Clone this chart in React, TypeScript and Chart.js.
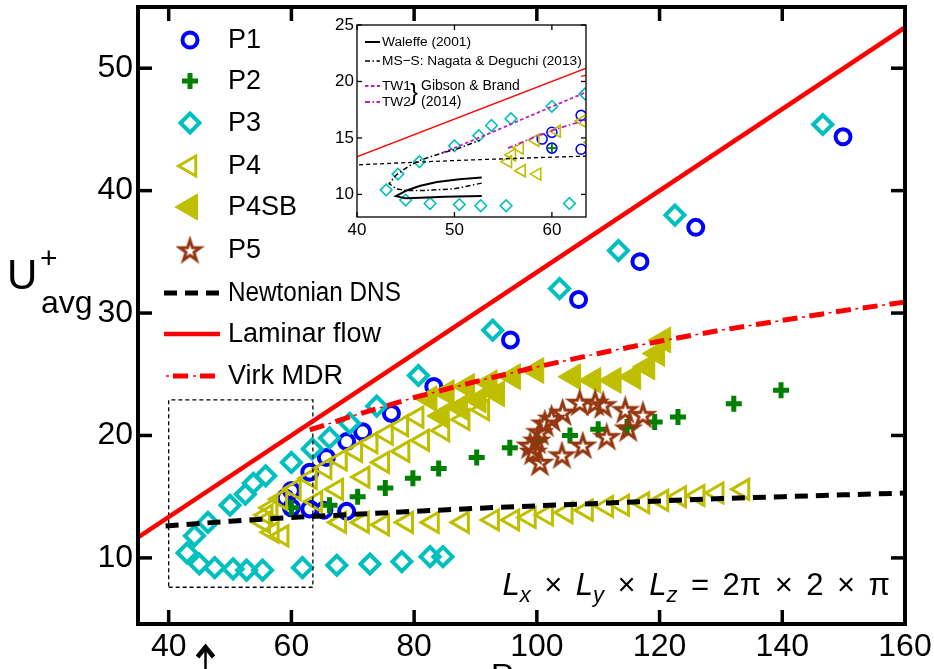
import React, { useEffect, useRef } from 'react';
import { Chart, registerables } from 'chart.js';
import { drawPoint } from 'chart.js/helpers';

Chart.register(...registerables);

const FONT = '"Liberation Sans", Arial, Helvetica, sans-serif';

// ---------- axes ----------
const xTicks = [40, 60, 80, 100, 120, 140, 160];
const yTicks = [10, 20, 30, 40, 50];
const insetXTicks = [40, 50, 60];
const insetYTicks = [10, 15, 20, 25];

// ---------- solutions (Re_tau, U+avg) ----------
const p1Re = [59.0, 60.0, 63.0, 65.7, 69.0, 71.6, 76.3, 83.2, 95.7, 106.8, 116.8, 125.9, 149.9, 60.0, 63.0, 65.3, 69.0];
const p1U = [14.9, 15.5, 17.0, 18.2, 19.5, 20.3, 21.8, 24.0, 27.8, 31.1, 34.2, 37.0, 44.4, 14.1, 14.0, 13.9, 13.8];

const p2Re = [60.0, 66.2, 70.8, 75.3, 79.8, 84.0, 90.2, 95.6, 100.0, 105.4, 110.0, 114.7, 119.2, 123.0, 132.1, 139.8];
const p2U = [14.1, 14.3, 15.0, 15.7, 16.5, 17.3, 18.2, 19.0, 19.6, 20.0, 20.5, 20.7, 21.1, 21.5, 22.6, 23.7];

const p3Re = [43.0, 44.2, 46.4, 50.0, 52.5, 53.8, 55.8, 60.0, 63.4, 66.2, 69.5, 73.9, 80.7, 92.8, 103.7, 113.3, 122.5, 146.6,
  45.0, 47.5, 50.5, 52.7, 55.3, 61.8, 67.4, 72.8, 78.0, 82.6, 84.7];
const p3U = [10.4, 11.8, 12.9, 14.3, 15.2, 16.1, 16.7, 17.8, 18.9, 19.8, 21.0, 22.4, 24.9, 28.6, 32.0, 35.1, 38.0, 45.4,
  9.5, 9.2, 9.1, 9.0, 9.0, 9.2, 9.4, 9.5, 9.7, 10.1, 10.1];

const p4Re = [55.5, 55.9, 56.7, 56.9, 58.5, 58.3, 60.5, 63.1,
  65.5, 68.0, 70.5, 73.0, 75.5, 78.0, 80.5,
  64.0, 67.4, 71.7, 74.9, 78.2, 81.4, 84.7, 88.0, 91.2,
  67.9, 71.6, 74.9, 78.8, 83.0, 87.9, 92.8, 96.1, 98.8, 101.6, 104.8, 108.1, 111.4, 114.0, 117.3, 120.4, 123.3, 126.3, 129.4, 133.6];
const p4U = [12.9, 13.5, 14.1, 12.1, 11.8, 14.8, 15.6, 16.5,
  17.3, 18.0, 18.7, 19.4, 20.1, 20.8, 21.5,
  14.6, 15.6, 16.6, 17.8, 18.7, 19.6, 20.4, 21.3, 22.1,
  12.9, 12.9, 12.7, 12.9, 12.9, 12.9, 13.1, 13.1, 13.3, 13.5, 13.7, 13.9, 14.2, 14.3, 14.5, 14.7, 15.0, 15.1, 15.3, 15.6];

const p4sbRe = [82.5, 85.3, 88.6, 92.3, 96.1, 99.9, 84.5, 87.5, 90.5, 93.5, 105.9, 109.2, 112.5, 115.7, 118.0, 119.6, 120.6];
const p4sbU = [23.0, 23.5, 24.0, 24.3, 24.8, 25.3, 21.6, 22.3, 22.9, 23.4, 24.8, 24.5, 24.5, 24.8, 25.6, 26.7, 27.8];

const p5Re = [100.5, 99.4, 98.9, 100.0, 100.5, 101.3, 102.4, 104.2, 107.0, 109.5, 110.8, 114.4, 117.3, 114.9, 111.4, 107.5, 104.1];
const p5U = [17.8, 18.7, 19.2, 19.6, 20.3, 21.0, 21.4, 21.9, 22.7, 22.7, 22.5, 22.1, 21.7, 20.6, 19.9, 19.2, 18.4];

// ---------- reference curves ----------
const laminarRe = [35, 160];
const laminarU = [11.67, 53.33];
const newtonRe = [39.5, 50, 60, 70, 80, 90, 100, 110, 120, 130, 140, 150, 160];
const newtonU = [12.6, 13.0, 13.3, 13.55, 13.8, 14.05, 14.25, 14.45, 14.65, 14.85, 15.0, 15.15, 15.3];
const virkRe = [63, 70, 80, 90, 100, 110, 120, 130, 140, 150, 160];
const virkU = [20.45, 21.6, 23.1, 24.4, 25.6, 26.7, 27.7, 28.6, 29.4, 30.2, 30.9];
const boxRe = [40, 63.5, 63.5, 40, 40];
const boxU = [7.6, 7.6, 22.9, 22.9, 7.6];

// ---------- inset: lower-branch solutions ----------
const waleffeRe = [52.8, 49.0, 46.5, 45.0, 44.0, 45.1, 46.4, 48.2, 50.5, 52.8];
const waleffeU = [9.85, 9.8, 9.7, 9.65, 9.85, 10.35, 10.75, 11.1, 11.35, 11.5];
const mssRe = [52.8, 50.0, 47.0, 45.0, 44.0, 43.3, 44.0, 45.3, 46.4, 48.5, 50.5, 52.6];
const mssU = [11.0, 10.5, 10.35, 10.35, 10.5, 10.95, 11.7, 12.5, 13.0, 13.6, 14.1, 14.8];
const tw1Re = [48.8, 50.5, 53.3, 56.0, 59.8, 63.5];
const tw1U = [13.7, 14.3, 15.3, 16.3, 17.7, 19.05];
const tw2Re = [55.5, 58.0, 60.5, 63.5];
const tw2U = [14.1, 15.0, 15.8, 16.6];

const BLUE = '#0000FF';
const GREEN = '#008000';
const CYAN = '#00BFBF';
const OLIVE = '#BFBF00';
const BROWN = '#94360F';
const RED = '#FF0000';
const MAGENTA = '#C020C0';
const NONE = 'rgba(0,0,0,0)';

const pts = (xs: number[], ys: number[]) => xs.map((x, i) => ({ x, y: ys[i] }));

function makeStar(R: number, color: string, lw: number) {
  const size = Math.ceil(2 * R + lw + 4);
  const c = document.createElement('canvas');
  c.width = size;
  c.height = size;
  const g = c.getContext('2d')!;
  const cx = size / 2;
  const cy = size / 2 + R * 0.1;
  g.beginPath();
  for (let i = 0; i < 10; i++) {
    const rr = i % 2 === 0 ? R : R * 0.382;
    const a = -Math.PI / 2 + (i * Math.PI) / 5;
    const px = cx + rr * Math.cos(a);
    const py = cy + rr * Math.sin(a);
    if (i === 0) g.moveTo(px, py);
    else g.lineTo(px, py);
  }
  g.closePath();
  g.strokeStyle = color;
  g.lineWidth = lw;
  g.lineJoin = 'miter';
  g.stroke();
  return c;
}

type Mk = { style: any; r: number; bw: number; color: string; fill: string; rot?: number };

function markerSet(label: string, xs: number[], ys: number[], m: Mk, order: number) {
  return {
    label,
    data: pts(xs, ys),
    showLine: false,
    pointStyle: m.style,
    pointRotation: m.rot ?? 0,
    pointRadius: m.r,
    pointBorderWidth: m.bw,
    pointBorderColor: m.color,
    pointBackgroundColor: m.fill,
    borderColor: m.color,
    backgroundColor: m.fill,
    order,
  };
}

function lineSet(label: string, xs: number[], ys: number[], color: string, width: number, dash: number[], order: number, dashOffset = 0) {
  return {
    label,
    data: pts(xs, ys),
    showLine: true,
    borderColor: color,
    backgroundColor: color,
    borderWidth: width,
    borderDash: dash,
    borderDashOffset: dashOffset,
    pointRadius: 0,
    tension: 0,
    fill: false,
    order,
  };
}

function markerOf(ds: any, x: number, y: number, ctx: CanvasRenderingContext2D) {
  ctx.save();
  ctx.fillStyle = ds.pointBackgroundColor;
  ctx.strokeStyle = ds.pointBorderColor;
  ctx.lineWidth = ds.pointBorderWidth;
  drawPoint(ctx, { pointStyle: ds.pointStyle, rotation: ds.pointRotation, radius: ds.pointRadius, borderWidth: ds.pointBorderWidth } as any, x, y);
  ctx.restore();
}

function seg(ctx: CanvasRenderingContext2D, x1: number, y1: number, x2: number, y2: number) {
  ctx.beginPath();
  ctx.moveTo(x1, y1);
  ctx.lineTo(x2, y2);
  ctx.stroke();
}

// keep the plot box where the layout padding puts it
const noEdgePadding = (s: any) => {
  s.paddingTop = 0;
  s.paddingBottom = 0;
  s.paddingLeft = 0;
  s.paddingRight = 0;
};

const mainDecor = {
  id: 'mainDecor',
  beforeDraw(chart: any) {
    const { ctx, width, height } = chart;
    ctx.save();
    ctx.fillStyle = '#fff';
    ctx.fillRect(0, 0, width, height);
    ctx.restore();
  },
  afterDraw(chart: any) {
    const { ctx, chartArea: a, scales } = chart;
    const xs = scales.x;
    const ys = scales.y;
    ctx.save();
    ctx.strokeStyle = '#000';
    ctx.lineWidth = 3.5;
    for (const v of xTicks) {
      const px = xs.getPixelForValue(v);
      seg(ctx, px, a.bottom, px, a.bottom - 14);
      seg(ctx, px, a.top, px, a.top + 14);
    }
    for (const v of yTicks) {
      const py = ys.getPixelForValue(v);
      seg(ctx, a.left, py, a.left + 14, py);
      seg(ctx, a.right, py, a.right - 14, py);
    }
    ctx.lineWidth = 4;
    ctx.strokeRect(a.left, a.top, a.right - a.left, a.bottom - a.top);

    // legend
    const byLabel = (l: string) => chart.data.datasets.find((d: any) => d.label === l);
    const rows: [string, number][] = [['P1', 40], ['P2', 81], ['P3', 123], ['P4', 166], ['P4SB', 207], ['P5', 250]];
    ctx.font = `27px ${FONT}`;
    ctx.fillStyle = '#000';
    ctx.textBaseline = 'middle';
    ctx.textAlign = 'left';
    for (const [l, y] of rows) {
      markerOf(byLabel(l), 190, y, ctx);
      ctx.fillStyle = '#000';
      ctx.fillText(l, 228, y + 1);
    }
    const lineRows: [string, number][] = [['Newtonian DNS', 293], ['Laminar flow', 334], ['Virk MDR', 376]];
    for (const [l, y] of lineRows) {
      ctx.save();
      if (l === 'Newtonian DNS') {
        ctx.strokeStyle = '#000'; ctx.lineWidth = 5; ctx.setLineDash([13, 8]);
        seg(ctx, 164, y, 219, y);
      } else if (l === 'Laminar flow') {
        ctx.strokeStyle = RED; ctx.lineWidth = 4.5;
        seg(ctx, 164, y, 220, y);
      } else {
        ctx.strokeStyle = RED; ctx.lineWidth = 5; ctx.setLineDash([15, 12]); ctx.lineDashOffset = -9;
        seg(ctx, 164, y, 220, y);
        ctx.lineWidth = 1.5; ctx.setLineDash([3, 24]); ctx.lineDashOffset = 27 - 2;
        seg(ctx, 164, y, 220, y);
      }
      ctx.restore();
      ctx.fillStyle = '#000';
      if (l === 'Newtonian DNS') {
        // slightly condensed, as in the figure
        ctx.save();
        ctx.translate(228, 0);
        ctx.scale(0.9, 1);
        ctx.fillText(l, 0, y + 1);
        ctx.restore();
      } else {
        ctx.fillText(l, 228, y + 1);
      }
    }

    // y-axis title U+avg
    ctx.textBaseline = 'alphabetic';
    ctx.font = `42px ${FONT}`;
    ctx.fillText('U', 7, 289);
    ctx.font = `30px ${FONT}`;
    ctx.fillText('+', 40, 268);
    ctx.font = `32px ${FONT}`;
    ctx.fillText('avg', 41, 313);

    // x-axis title Re_tau (mostly below the visible area)
    ctx.font = `32px ${FONT}`;
    ctx.fillText('Re', 491, 686);
    ctx.font = `22px ${FONT}`;
    ctx.fillText('τ', 527, 694);

    // domain size annotation, math-style spacing around the operators
    const big = `${31}px ${FONT}`;
    const it = `italic ${31}px ${FONT}`;
    const sub = `italic 22px ${FONT}`;
    const gap = 13.5;
    const parts: { t: string; f: string; dy: number; pad: number }[] = [
      { t: 'L', f: it, dy: 0, pad: 0 },
      { t: 'x', f: sub, dy: 7, pad: gap },
      { t: '×', f: big, dy: 0, pad: gap },
      { t: 'L', f: it, dy: 0, pad: 0 },
      { t: 'y', f: sub, dy: 7, pad: gap },
      { t: '×', f: big, dy: 0, pad: gap },
      { t: 'L', f: it, dy: 0, pad: 0 },
      { t: 'z', f: sub, dy: 7, pad: gap },
      { t: '=', f: big, dy: 0, pad: gap },
      { t: '2π', f: big, dy: 0, pad: gap },
      { t: '×', f: big, dy: 0, pad: gap },
      { t: '2', f: big, dy: 0, pad: gap },
      { t: '×', f: big, dy: 0, pad: gap },
      { t: 'π', f: big, dy: 0, pad: 0 },
    ];
    let total = 0;
    for (const p of parts) { ctx.font = p.f; total += ctx.measureText(p.t).width + p.pad; }
    let cx = 890 - total;
    for (const p of parts) {
      ctx.font = p.f;
      ctx.fillText(p.t, cx, 595 + p.dy);
      cx += ctx.measureText(p.t).width + p.pad;
    }

    // arrow marking the lowest Re_tau
    const ax = xs.getPixelForValue(46);
    ctx.strokeStyle = '#000';
    ctx.lineWidth = 2.5;
    seg(ctx, ax, 647, ax, 669);
    ctx.lineWidth = 4.5;
    ctx.beginPath();
    ctx.moveTo(ax - 8, 657);
    ctx.lineTo(ax, 647);
    ctx.lineTo(ax + 8, 657);
    ctx.stroke();
    ctx.restore();
  },
};

const insetDecor = {
  id: 'insetDecor',
  beforeDraw(chart: any) {
    const { ctx, chartArea: a } = chart;
    ctx.save();
    ctx.fillStyle = '#fff';
    ctx.fillRect(a.left, a.top, a.right - a.left, a.bottom - a.top);
    ctx.restore();
  },
  afterDraw(chart: any) {
    const { ctx, chartArea: a, scales } = chart;
    ctx.save();
    ctx.strokeStyle = '#000';
    ctx.lineWidth = 1.3;
    for (const v of insetXTicks) {
      const px = scales.x.getPixelForValue(v);
      seg(ctx, px, a.bottom, px, a.bottom - 5);
      seg(ctx, px, a.top, px, a.top + 5);
    }
    for (const v of insetYTicks) {
      const py = scales.y.getPixelForValue(v);
      seg(ctx, a.left, py, a.left + 5, py);
      seg(ctx, a.right, py, a.right - 5, py);
    }
    ctx.strokeRect(a.left, a.top, a.right - a.left, a.bottom - a.top);

    // legend
    ctx.font = `13.7px ${FONT}`;
    ctx.fillStyle = '#000';
    ctx.textBaseline = 'middle';
    ctx.textAlign = 'left';
    const lx1 = 55;
    const lx2 = 70;
    ctx.lineWidth = 2;
    seg(ctx, lx1, 42, lx2, 42);
    ctx.fillText('Waleffe (2001)', 72, 42);
    ctx.save();
    ctx.lineWidth = 1.5; ctx.setLineDash([5, 2.5, 1.5, 2.5]);
    seg(ctx, lx1, 61, lx2, 61);
    ctx.restore();
    ctx.fillText('MS−S: Nagata & Deguchi (2013)', 72, 61);
    ctx.save();
    ctx.strokeStyle = MAGENTA; ctx.lineWidth = 1.8; ctx.setLineDash([3.5, 2.5]);
    seg(ctx, lx1, 86, lx2, 86);
    ctx.setLineDash([5, 2.5, 1.5, 2.5]);
    seg(ctx, lx1, 102, lx2, 102);
    ctx.restore();
    ctx.fillText('TW1', 72, 86);
    ctx.fillText('TW2', 72, 102);
    ctx.font = `24px ${FONT}`;
    ctx.fillText('}', 100, 93);
    ctx.font = `14px ${FONT}`;
    ctx.fillText('Gibson & Brand', 111, 86);
    ctx.fillText('(2014)', 111, 102);
    ctx.restore();
  },
};

export default function App() {
  const mainRef = useRef<HTMLCanvasElement>(null);
  const insetRef = useRef<HTMLCanvasElement>(null);

  useEffect(() => {
    const star = makeStar(11, BROWN, 3);
    const smallStar = makeStar(6, BROWN, 1.5);

    const mk = {
      p1: { style: 'circle', r: 7.5, bw: 4, color: BLUE, fill: NONE },
      p2: { style: 'cross', r: 8, bw: 5, color: GREEN, fill: NONE },
      p3: { style: 'rectRot', r: 9.5, bw: 4, color: CYAN, fill: NONE },
      p4: { style: 'triangle', rot: -90, r: 11.5, bw: 3, color: OLIVE, fill: NONE },
      p4sb: { style: 'triangle', rot: -90, r: 15, bw: 1, color: OLIVE, fill: OLIVE },
      p5: { style: star, r: 11, bw: 0, color: BROWN, fill: BROWN },
    };
    const mkInset = {
      p1: { style: 'circle', r: 5, bw: 1.6, color: BLUE, fill: NONE },
      p2: { style: 'cross', r: 4.5, bw: 1.8, color: GREEN, fill: NONE },
      p3: { style: 'rectRot', r: 5.8, bw: 1.6, color: CYAN, fill: NONE },
      p4: { style: 'triangle', rot: -90, r: 7, bw: 1.6, color: OLIVE, fill: NONE },
      p4sb: { style: 'triangle', rot: -90, r: 8, bw: 1, color: OLIVE, fill: OLIVE },
      p5: { style: smallStar, r: 6, bw: 0, color: BROWN, fill: BROWN },
    };

    const main = new Chart(mainRef.current!, {
      type: 'scatter',
      data: {
        datasets: [
          lineSet('Laminar flow', laminarRe, laminarU, RED, 4.5, [], 0),
          lineSet('Newtonian DNS', newtonRe, newtonU, '#000', 5, [13, 8], 0),
          lineSet('Virk MDR', virkRe, virkU, RED, 5, [15, 12], 0),
          lineSet('Virk MDR (dots)', virkRe, virkU, RED, 1.5, [3, 24], 0, 7.5),
          lineSet('zoom window', boxRe, boxU, '#000', 1.3, [4, 3], 0),
          markerSet('P5', p5Re, p5U, mk.p5, 1),
          markerSet('P4SB', p4sbRe, p4sbU, mk.p4sb, 2),
          markerSet('P4', p4Re, p4U, mk.p4, 3),
          markerSet('P3', p3Re, p3U, mk.p3, 4),
          markerSet('P2', p2Re, p2U, mk.p2, 5),
          markerSet('P1', p1Re, p1U, mk.p1, 6),
        ] as any,
      },
      options: {
        responsive: false,
        animation: false,
        devicePixelRatio: 1,
        events: [],
        layout: { autoPadding: false, padding: { left: 0, right: 29, top: 7, bottom: 0 } },
        plugins: { legend: { display: false }, tooltip: { enabled: false } },
        scales: {
          x: {
            type: 'linear', min: 35, max: 160,
            afterBuildTicks: (s: any) => { s.ticks = xTicks.map((v) => ({ value: v })); },
            afterFit: (s: any) => { s.height = 45; noEdgePadding(s); },
            grid: { display: false, drawTicks: false },
            border: { display: false },
            ticks: { font: { family: FONT, size: 32 }, color: '#000', padding: 4, maxRotation: 0, autoSkip: false },
          },
          y: {
            type: 'linear', min: 4.6, max: 55,
            afterBuildTicks: (s: any) => { s.ticks = yTicks.map((v) => ({ value: v })); },
            afterFit: (s: any) => { s.width = 138; noEdgePadding(s); },
            grid: { display: false, drawTicks: false },
            border: { display: false },
            ticks: { font: { family: FONT, size: 32 }, color: '#000', padding: 5, autoSkip: false },
          },
        },
      } as any,
      plugins: [mainDecor],
    });

    const inset = new Chart(insetRef.current!, {
      type: 'scatter',
      data: {
        datasets: [
          lineSet('Laminar flow', laminarRe, laminarU, RED, 1.3, [], 0),
          lineSet('Newtonian DNS', newtonRe, newtonU, '#000', 1.3, [4, 3], 0),
          lineSet('Virk MDR', virkRe, virkU, RED, 1.3, [5, 2.5, 1.5, 2.5], 0),
          lineSet('Waleffe (2001)', waleffeRe, waleffeU, '#000', 2, [], 0),
          lineSet('MS-S', mssRe, mssU, '#000', 1.5, [5, 2.5, 1.5, 2.5], 0),
          lineSet('TW1', tw1Re, tw1U, MAGENTA, 1.8, [3.5, 2.5], 0),
          lineSet('TW2', tw2Re, tw2U, MAGENTA, 1.8, [5, 2.5, 1.5, 2.5], 0),
          markerSet('P5', p5Re, p5U, mkInset.p5, 1),
          markerSet('P4SB', p4sbRe, p4sbU, mkInset.p4sb, 2),
          markerSet('P4', p4Re, p4U, mkInset.p4, 3),
          markerSet('P3', p3Re, p3U, mkInset.p3, 4),
          markerSet('P2', p2Re, p2U, mkInset.p2, 5),
          markerSet('P1', p1Re, p1U, mkInset.p1, 6),
        ] as any,
      },
      options: {
        responsive: false,
        animation: false,
        devicePixelRatio: 1,
        events: [],
        layout: { autoPadding: false, padding: { left: 0, right: 24, top: 25, bottom: 0 } },
        plugins: { legend: { display: false }, tooltip: { enabled: false } },
        scales: {
          x: {
            type: 'linear', min: 40, max: 63.5,
            afterBuildTicks: (s: any) => { s.ticks = insetXTicks.map((v) => ({ value: v })); },
            afterFit: (s: any) => { s.height = 28; noEdgePadding(s); },
            grid: { display: false, drawTicks: false },
            border: { display: false },
            ticks: { font: { family: FONT, size: 17 }, color: '#000', padding: 3, maxRotation: 0, autoSkip: false },
          },
          y: {
            type: 'linear', min: 8, max: 25,
            afterBuildTicks: (s: any) => { s.ticks = insetYTicks.map((v) => ({ value: v })); },
            afterFit: (s: any) => { s.width = 47; noEdgePadding(s); },
            grid: { display: false, drawTicks: false },
            border: { display: false },
            ticks: { font: { family: FONT, size: 17 }, color: '#000', padding: 3, autoSkip: false },
          },
        },
      } as any,
      plugins: [insetDecor],
    });

    return () => {
      main.destroy();
      inset.destroy();
    };
  }, []);

  return (
    <div style={{ position: 'absolute', left: 0, top: 0, width: 934, height: 669, background: '#fff', overflow: 'hidden' }}>
      <canvas ref={mainRef} width={934} height={669} style={{ position: 'absolute', left: 0, top: 0, width: 934, height: 669 }} />
      <canvas ref={insetRef} width={300} height={245} style={{ position: 'absolute', left: 310, top: 0, width: 300, height: 245 }} />
    </div>
  );
}
